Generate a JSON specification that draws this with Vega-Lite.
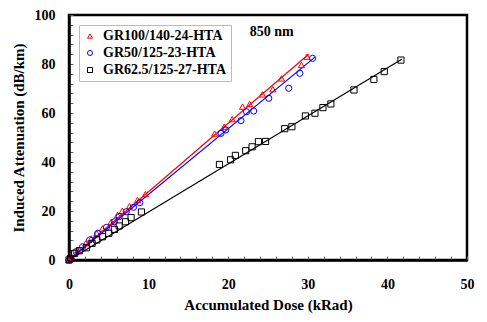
{
  "$schema": "https://vega.github.io/schema/vega-lite/v6.json",
  "width": 398,
  "height": 245,
  "autosize": {"type": "none"},
  "padding": {"left": 69, "top": 15, "right": 20, "bottom": 62},
  "background": "white",
  "config": {
    "font": "Liberation Serif",
    "view": {"stroke": "black", "strokeWidth": 2.5},
    "axis": {"grid": false, "domainColor": "black", "domainWidth": 2.5, "tickColor": "#666", "tickWidth": 1, "labelColor": "black", "titleColor": "black", "labelOverlap": false}
  },
  "datasets": {
    "pts": [
      {"dose": 0, "att": 0, "fiber": "GR100/140-24-HTA"},
      {"dose": 0.3, "att": 1.4, "fiber": "GR100/140-24-HTA"},
      {"dose": 1.1, "att": 4.1, "fiber": "GR100/140-24-HTA"},
      {"dose": 2.1, "att": 6.8, "fiber": "GR100/140-24-HTA"},
      {"dose": 2.8, "att": 8.8, "fiber": "GR100/140-24-HTA"},
      {"dose": 3.5, "att": 10.9, "fiber": "GR100/140-24-HTA"},
      {"dose": 4.2, "att": 12.9, "fiber": "GR100/140-24-HTA"},
      {"dose": 5.3, "att": 15.6, "fiber": "GR100/140-24-HTA"},
      {"dose": 6.1, "att": 18.4, "fiber": "GR100/140-24-HTA"},
      {"dose": 6.7, "att": 20.1, "fiber": "GR100/140-24-HTA"},
      {"dose": 7.6, "att": 22.0, "fiber": "GR100/140-24-HTA"},
      {"dose": 8.6, "att": 24.5, "fiber": "GR100/140-24-HTA"},
      {"dose": 9.6, "att": 26.9, "fiber": "GR100/140-24-HTA"},
      {"dose": 18.3, "att": 51.6, "fiber": "GR100/140-24-HTA"},
      {"dose": 19.5, "att": 54.4, "fiber": "GR100/140-24-HTA"},
      {"dose": 20.5, "att": 57.5, "fiber": "GR100/140-24-HTA"},
      {"dose": 21.8, "att": 62.6, "fiber": "GR100/140-24-HTA"},
      {"dose": 22.7, "att": 63.7, "fiber": "GR100/140-24-HTA"},
      {"dose": 24.3, "att": 67.6, "fiber": "GR100/140-24-HTA"},
      {"dose": 25.6, "att": 69.7, "fiber": "GR100/140-24-HTA"},
      {"dose": 26.7, "att": 74.1, "fiber": "GR100/140-24-HTA"},
      {"dose": 29.2, "att": 79.6, "fiber": "GR100/140-24-HTA"},
      {"dose": 29.9, "att": 83.0, "fiber": "GR100/140-24-HTA"},
      {"dose": 0, "att": 0, "fiber": "GR50/125-23-HTA"},
      {"dose": 0.9, "att": 3.4, "fiber": "GR50/125-23-HTA"},
      {"dose": 1.7, "att": 5.4, "fiber": "GR50/125-23-HTA"},
      {"dose": 2.6, "att": 8.2, "fiber": "GR50/125-23-HTA"},
      {"dose": 3.6, "att": 10.9, "fiber": "GR50/125-23-HTA"},
      {"dose": 4.7, "att": 13.3, "fiber": "GR50/125-23-HTA"},
      {"dose": 5.7, "att": 15.6, "fiber": "GR50/125-23-HTA"},
      {"dose": 6.3, "att": 17.7, "fiber": "GR50/125-23-HTA"},
      {"dose": 7.2, "att": 19.7, "fiber": "GR50/125-23-HTA"},
      {"dose": 8.1, "att": 21.5, "fiber": "GR50/125-23-HTA"},
      {"dose": 8.9, "att": 23.4, "fiber": "GR50/125-23-HTA"},
      {"dose": 19.1, "att": 51.7, "fiber": "GR50/125-23-HTA"},
      {"dose": 19.7, "att": 53.1, "fiber": "GR50/125-23-HTA"},
      {"dose": 21.6, "att": 56.9, "fiber": "GR50/125-23-HTA"},
      {"dose": 22.3, "att": 60.5, "fiber": "GR50/125-23-HTA"},
      {"dose": 23.2, "att": 60.8, "fiber": "GR50/125-23-HTA"},
      {"dose": 25.1, "att": 66.0, "fiber": "GR50/125-23-HTA"},
      {"dose": 27.6, "att": 70.1, "fiber": "GR50/125-23-HTA"},
      {"dose": 29.0, "att": 76.2, "fiber": "GR50/125-23-HTA"},
      {"dose": 30.6, "att": 82.3, "fiber": "GR50/125-23-HTA"},
      {"dose": 0, "att": 0, "fiber": "GR62.5/125-27-HTA"},
      {"dose": 0.2, "att": 0.7, "fiber": "GR62.5/125-27-HTA"},
      {"dose": 0.7, "att": 2.7, "fiber": "GR62.5/125-27-HTA"},
      {"dose": 1.3, "att": 3.8, "fiber": "GR62.5/125-27-HTA"},
      {"dose": 2.2, "att": 5.0, "fiber": "GR62.5/125-27-HTA"},
      {"dose": 2.9, "att": 6.8, "fiber": "GR62.5/125-27-HTA"},
      {"dose": 3.5, "att": 8.2, "fiber": "GR62.5/125-27-HTA"},
      {"dose": 4.2, "att": 9.5, "fiber": "GR62.5/125-27-HTA"},
      {"dose": 5.0, "att": 10.9, "fiber": "GR62.5/125-27-HTA"},
      {"dose": 5.7, "att": 12.5, "fiber": "GR62.5/125-27-HTA"},
      {"dose": 6.3, "att": 13.9, "fiber": "GR62.5/125-27-HTA"},
      {"dose": 7.1, "att": 15.6, "fiber": "GR62.5/125-27-HTA"},
      {"dose": 7.8, "att": 17.3, "fiber": "GR62.5/125-27-HTA"},
      {"dose": 9.1, "att": 19.6, "fiber": "GR62.5/125-27-HTA"},
      {"dose": 18.9, "att": 39.0, "fiber": "GR62.5/125-27-HTA"},
      {"dose": 20.3, "att": 40.9, "fiber": "GR62.5/125-27-HTA"},
      {"dose": 20.9, "att": 42.7, "fiber": "GR62.5/125-27-HTA"},
      {"dose": 22.2, "att": 44.6, "fiber": "GR62.5/125-27-HTA"},
      {"dose": 23.0, "att": 46.2, "fiber": "GR62.5/125-27-HTA"},
      {"dose": 23.8, "att": 48.3, "fiber": "GR62.5/125-27-HTA"},
      {"dose": 24.7, "att": 48.4, "fiber": "GR62.5/125-27-HTA"},
      {"dose": 27.1, "att": 53.6, "fiber": "GR62.5/125-27-HTA"},
      {"dose": 28.0, "att": 54.4, "fiber": "GR62.5/125-27-HTA"},
      {"dose": 29.7, "att": 58.8, "fiber": "GR62.5/125-27-HTA"},
      {"dose": 30.9, "att": 59.9, "fiber": "GR62.5/125-27-HTA"},
      {"dose": 31.9, "att": 62.2, "fiber": "GR62.5/125-27-HTA"},
      {"dose": 32.9, "att": 63.7, "fiber": "GR62.5/125-27-HTA"},
      {"dose": 35.8, "att": 69.4, "fiber": "GR62.5/125-27-HTA"},
      {"dose": 38.3, "att": 73.7, "fiber": "GR62.5/125-27-HTA"},
      {"dose": 39.6, "att": 76.9, "fiber": "GR62.5/125-27-HTA"},
      {"dose": 41.7, "att": 81.6, "fiber": "GR62.5/125-27-HTA"}
    ],
    "fit": [
      {"dose": 0, "att": 0, "fiber": "GR100/140-24-HTA"},
      {"dose": 30.1, "att": 84.0, "fiber": "GR100/140-24-HTA"},
      {"dose": 0, "att": 0, "fiber": "GR50/125-23-HTA"},
      {"dose": 30.9, "att": 82.8, "fiber": "GR50/125-23-HTA"},
      {"dose": 0, "att": 0, "fiber": "GR62.5/125-27-HTA"},
      {"dose": 41.8, "att": 81.9, "fiber": "GR62.5/125-27-HTA"}
    ],
    "note": [{"dose": 22.7, "att": 93, "label": "850 nm"}]
  },
  "encoding": {
    "x": {
      "field": "dose", "type": "quantitative",
      "scale": {"domain": [0, 50], "nice": false, "zero": true},
      "axis": {
        "title": "Accumulated Dose (kRad)",
        "values": [0,2,4,6,8,10,12,14,16,18,20,22,24,26,28,30,32,34,36,38,40,42,44,46,48,50],
        "labelExpr": "datum.value % 10 === 0 ? datum.label : ''",
        "labelOverlap": false,
        "tickSize": -4,
        "labelPadding": 21,
        "labelFontSize": 14, "labelFontWeight": "bold",
        "titleFontSize": 15, "titleFontWeight": "bold", "titlePadding": 6,
        "labelFlush": false
      }
    },
    "y": {
      "field": "att", "type": "quantitative",
      "scale": {"domain": [0, 100], "nice": false},
      "axis": {
        "title": "Induced Attenuation (dB/km)",
        "values": [0,4,8,12,16,20,24,28,32,36,40,44,48,52,56,60,64,68,72,76,80,84,88,92,96,100],
        "labelExpr": "datum.value % 20 === 0 ? datum.label : ''",
        "labelOverlap": false,
        "tickSize": -4,
        "labelPadding": 18,
        "labelFontSize": 14, "labelFontWeight": "bold",
        "titleFontSize": 15, "titleFontWeight": "bold", "titlePadding": 8,
        "labelFlush": false
      }
    }
  },
  "layer": [
    {
      "data": {"name": "fit"},
      "mark": {"type": "line", "strokeWidth": 1.2},
      "encoding": {
        "detail": {"field": "fiber"},
        "color": {
          "field": "fiber", "type": "nominal",
          "legend": {
            "title": null, "orient": "none", "legendX": 10, "legendY": 10,
            "fillColor": "white", "strokeColor": "#bbbbbb", "padding": 4,
            "labelFontSize": 14, "labelFontWeight": "bold", "labelColor": "black",
            "symbolSize": 25, "symbolStrokeWidth": 1, "rowPadding": 3, "labelOffset": 6, "labelLimit": 300
          }
        }
      }
    },
    {
      "data": {"name": "pts"},
      "mark": {"type": "point", "filled": false, "strokeWidth": 1, "size": 38, "opacity": 1},
      "encoding": {
        "color": {
          "field": "fiber", "type": "nominal",
          "scale": {"domain": ["GR100/140-24-HTA", "GR50/125-23-HTA", "GR62.5/125-27-HTA"], "range": ["#ff0000", "#0000ff", "#000000"]},
          "legend": {
            "title": null, "orient": "none", "legendX": 10, "legendY": 10,
            "fillColor": "white", "strokeColor": "#bbbbbb", "padding": 4,
            "labelFontSize": 14, "labelFontWeight": "bold", "labelColor": "black",
            "symbolSize": 25, "symbolStrokeWidth": 1, "rowPadding": 3, "labelOffset": 6, "labelLimit": 300
          }
        },
        "shape": {
          "field": "fiber", "type": "nominal",
          "scale": {"domain": ["GR100/140-24-HTA", "GR50/125-23-HTA", "GR62.5/125-27-HTA"], "range": ["triangle-up", "circle", "square"]},
          "legend": {
            "title": null, "orient": "none", "legendX": 10, "legendY": 10,
            "fillColor": "white", "strokeColor": "#bbbbbb", "padding": 4,
            "labelFontSize": 14, "labelFontWeight": "bold", "labelColor": "black",
            "symbolSize": 25, "symbolStrokeWidth": 1, "rowPadding": 3, "labelOffset": 6, "labelLimit": 300
          }
        }
      }
    },
    {
      "data": {"name": "note"},
      "mark": {"type": "text", "align": "left", "baseline": "middle", "fontSize": 14, "fontWeight": "bold", "color": "black"},
      "encoding": {
        "text": {"field": "label"}
      }
    }
  ]
}
